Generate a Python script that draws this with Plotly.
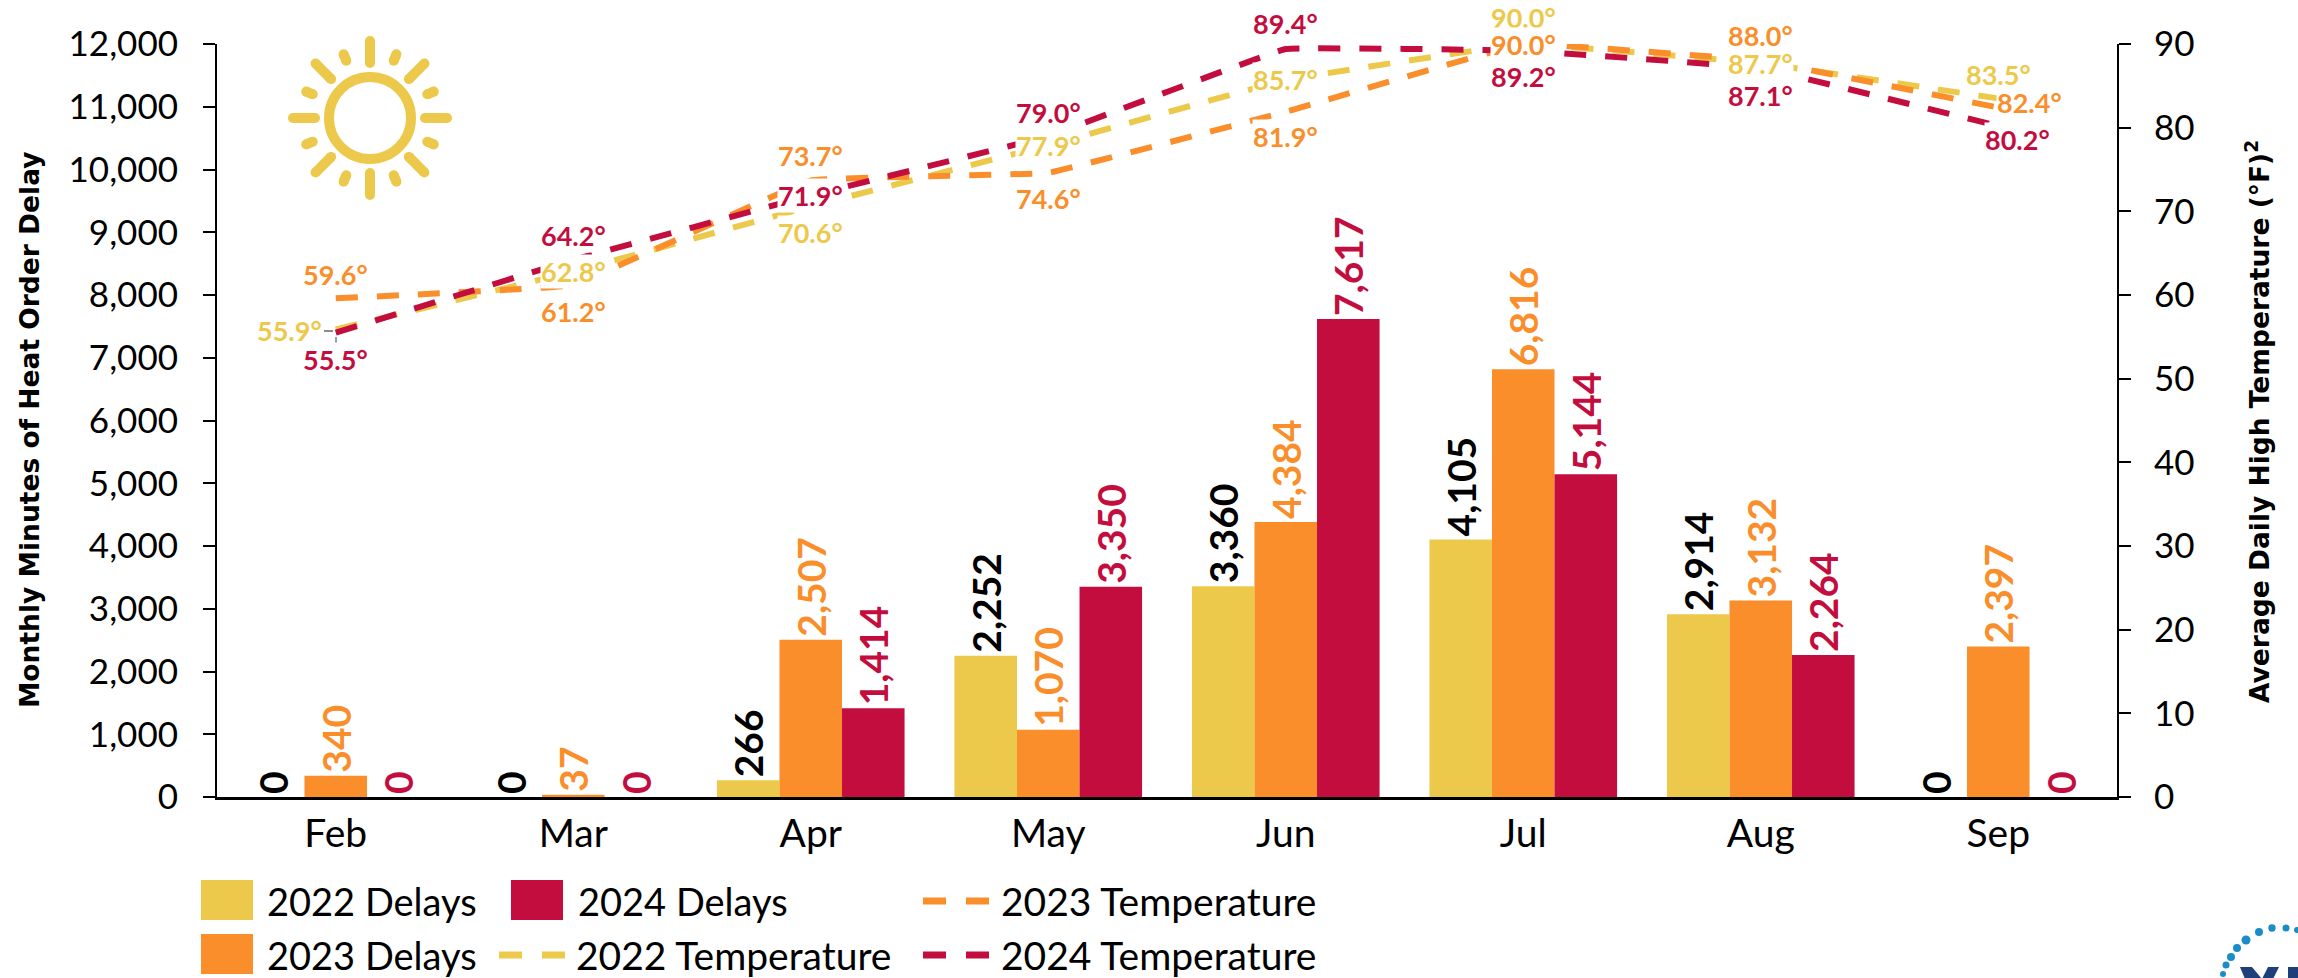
import math
import plotly.graph_objects as go

months = ["Feb", "Mar", "Apr", "May", "Jun", "Jul", "Aug", "Sep"]
delays_2022 = [0, 0, 266, 2252, 3360, 4105, 2914, 0]
delays_2023 = [340, 37, 2507, 1070, 4384, 6816, 3132, 2397]
delays_2024 = [0, 0, 1414, 3350, 7617, 5144, 2264, 0]
temp_2022 = [55.9, 62.8, 70.6, 77.9, 85.7, 90.0, 87.7, 83.5]
temp_2023 = [59.6, 61.2, 73.7, 74.6, 81.9, 90.0, 88.0, 82.4]
temp_2024 = [55.5, 64.2, 71.9, 79.0, 89.4, 89.2, 87.1, 80.2]

YEL, ORG, RED = "#ECC94B", "#F98E2B", "#C30D3E"
FONT = "Lato"
W, H = 2298, 978
L, R, T, B = 217, 2117, 44, 797

# label offsets (px) relative to each point, per temperature series
off_2022 = [(-46, 1), (0, 0), (0, 26), (0, 0), (0, 0), (0, -27), (0, 0), (0, -24)]
off_2023 = [(0, -24), (0, 27), (0, -25), (0, 26), (0, 25), (0, 0), (0, -25), (31, -5)]
off_2024 = [(0, 27), (0, -24), (0, 0), (0, -24), (0, -26), (0, 26), (0, 27), (19, 14)]


def px(x):
    return (x - L) / (R - L)


def py(y):
    return (B - y) / (B - T)


fig = go.Figure()
for name, vals, col, tcol in [("2022 Delays", delays_2022, YEL, "#000000"),
                              ("2023 Delays", delays_2023, ORG, ORG),
                              ("2024 Delays", delays_2024, RED, RED)]:
    fig.add_bar(x=months, y=vals, name=name, marker=dict(color=col, line_width=0),
                texttemplate="%{y:,}", textposition="outside", textangle=-90,
                cliponaxis=False, constraintext="none",
                textfont=dict(family=FONT, size=39, color=tcol, weight="bold"))
for name, vals, col in [("2022 Temperature", temp_2022, YEL),
                        ("2023 Temperature", temp_2023, ORG),
                        ("2024 Temperature", temp_2024, RED)]:
    fig.add_scatter(x=months, y=vals, name=name, yaxis="y2", mode="lines",
                    line=dict(color=col, width=6, dash="22px,19px", shape="spline", smoothing=0.15))

ann = []
for vals, offs, col in [(temp_2022, off_2022, YEL), (temp_2023, off_2023, ORG), (temp_2024, off_2024, RED)]:
    for m, v, (dx, dy) in zip(months, vals, offs):
        ann.append(dict(x=m, y=v, xref="x", yref="y2", text=f"{v:.1f}°", showarrow=False,
                        xshift=dx, yshift=-dy, bgcolor="#FFFFFF", borderpad=0,
                        font=dict(family=FONT, size=27, color=col, weight="bold")))

title_font = dict(family="DejaVu Sans", size=26.5, color="#000000", weight="bold")
ann.append(dict(x=px(29), y=py(430), xref="paper", yref="paper", text="Monthly Minutes of Heat Order Delay",
                showarrow=False, textangle=-90, xanchor="center", yanchor="middle", font=title_font))
ann.append(dict(x=px(2258), y=py(422), xref="paper", yref="paper",
                text="Average Daily High Temperature (°F)<sup>2</sup>",
                showarrow=False, textangle=-90, xanchor="center", yanchor="middle", font=title_font))

shapes = []


def rect(x0, y0, x1, y1, col):
    shapes.append(dict(type="rect", xref="paper", yref="paper", x0=px(x0), x1=px(x1), y0=py(y0), y1=py(y1),
                       fillcolor=col, line_width=0, layer="above"))


def seg(x0, y0, x1, y1, col, w):
    shapes.append(dict(type="line", xref="paper", yref="paper", x0=px(x0), x1=px(x1), y0=py(y0), y1=py(y1),
                       line=dict(color=col, width=w), layer="above"))


def dot(cx, cy, r, col):
    shapes.append(dict(type="circle", xref="paper", yref="paper", x0=px(cx - r), x1=px(cx + r),
                       y0=py(cy - r), y1=py(cy + r), fillcolor=col, line_width=0, layer="above"))


def poly(pts, col):
    p = "M " + " L ".join(f"{px(a):.5f} {py(b):.5f}" for a, b in pts) + " Z"
    shapes.append(dict(type="path", xref="paper", yref="paper", path=p, fillcolor=col, line_width=0, layer="above"))


# sun icon
cx, cy = 370, 118
shapes.append(dict(type="circle", xref="paper", yref="paper", x0=px(cx - 41), x1=px(cx + 41),
                   y0=py(cy - 41), y1=py(cy + 41), line=dict(color=YEL, width=10), layer="above"))
for i in range(16):
    a = i * math.pi / 8
    r0, r1 = (55, 77) if i % 2 == 0 else (62, 69)
    x0, y0, x1, y1 = cx + r0 * math.sin(a), cy - r0 * math.cos(a), cx + r1 * math.sin(a), cy - r1 * math.cos(a)
    seg(x0, y0, x1, y1, YEL, 10)
    dot(x0, y0, 5, YEL)
    dot(x1, y1, 5, YEL)

# leader lines beside the first labels
seg(324, 331, 333, 331, "#666666", 1.5)
seg(336, 337, 336, 345, "#6C7FA0", 1.5)

# legend
for lab, sx0, sx1, ytop, tx, col in [("2022 Delays", 201, 253, 880, 265, YEL),
                                     ("2023 Delays", 201, 253, 934, 265, ORG),
                                     ("2024 Delays", 511, 563, 880, 576, RED)]:
    rect(sx0, ytop, sx1, ytop + 40, col)
    ann.append(dict(x=px(tx), y=py(ytop + 21), xref="paper", yref="paper", text=lab, showarrow=False,
                    xanchor="left", yanchor="middle", font=dict(family=FONT, size=38, color="#000000")))
for lab, x0, yc, tx, col in [("2022 Temperature", 499, 955, 574, YEL),
                             ("2023 Temperature", 923, 901, 999, ORG),
                             ("2024 Temperature", 923, 955, 999, RED)]:
    seg(x0, yc, x0 + 23, yc, col, 7)
    seg(x0 + 43, yc, x0 + 66, yc, col, 7)
    ann.append(dict(x=px(tx), y=py(yc), xref="paper", yref="paper", text=lab, showarrow=False,
                    xanchor="left", yanchor="middle", font=dict(family=FONT, size=39, color="#000000")))

# partial logo at the bottom-right corner
for dx, dy, r in [(2223, 974, 3), (2226, 965, 3.5), (2231, 957, 4), (2237, 948, 4), (2246, 940, 4.5),
                  (2259, 932, 4), (2272, 928, 3.7), (2286, 928, 3.5), (2297, 930, 3)]:
    dot(dx, dy, r, "#1A8CC8")
poly([(2240, 967), (2252, 967), (2262, 979), (2245, 979)], "#1F3F7A")
poly([(2268, 967), (2279, 967), (2273, 979), (2262, 979)], "#1F3F7A")
poly([(2288, 967), (2298, 967), (2298, 979), (2288, 979)], "#1F3F7A")

tick_font = dict(family=FONT, size=35, color="#000000")
fig.update_layout(
    width=W, height=H, margin=dict(l=L, r=W - R, t=T, b=H - B, autoexpand=False),
    paper_bgcolor="#FFFFFF", plot_bgcolor="#FFFFFF", showlegend=False,
    barmode="group", bargap=0.21, bargroupgap=0,
    annotations=ann, shapes=shapes,
    xaxis=dict(type="category", showgrid=False, zeroline=False, showline=True, linecolor="#000000", linewidth=3,
               ticks="", tickfont=dict(family=FONT, size=39, color="#000000"), ticklabelstandoff=0),
    yaxis=dict(range=[0, 12000], dtick=1000, tickformat=",", showgrid=False, zeroline=False, showline=True,
               linecolor="#000000", linewidth=2, ticks="outside", ticklen=12, tickwidth=2, tickcolor="#000000",
               tickfont=tick_font, ticklabelstandoff=18),
    yaxis2=dict(range=[0, 90], dtick=10, overlaying="y", side="right", showgrid=False, zeroline=False, showline=True,
                linecolor="#000000", linewidth=2, ticks="outside", ticklen=12, tickwidth=2, tickcolor="#000000",
                tickfont=tick_font, ticklabelstandoff=16),
)
fig.write_html("out.html", post_script="document.body.style.margin='0';", config=dict(displayModeBar=False))
